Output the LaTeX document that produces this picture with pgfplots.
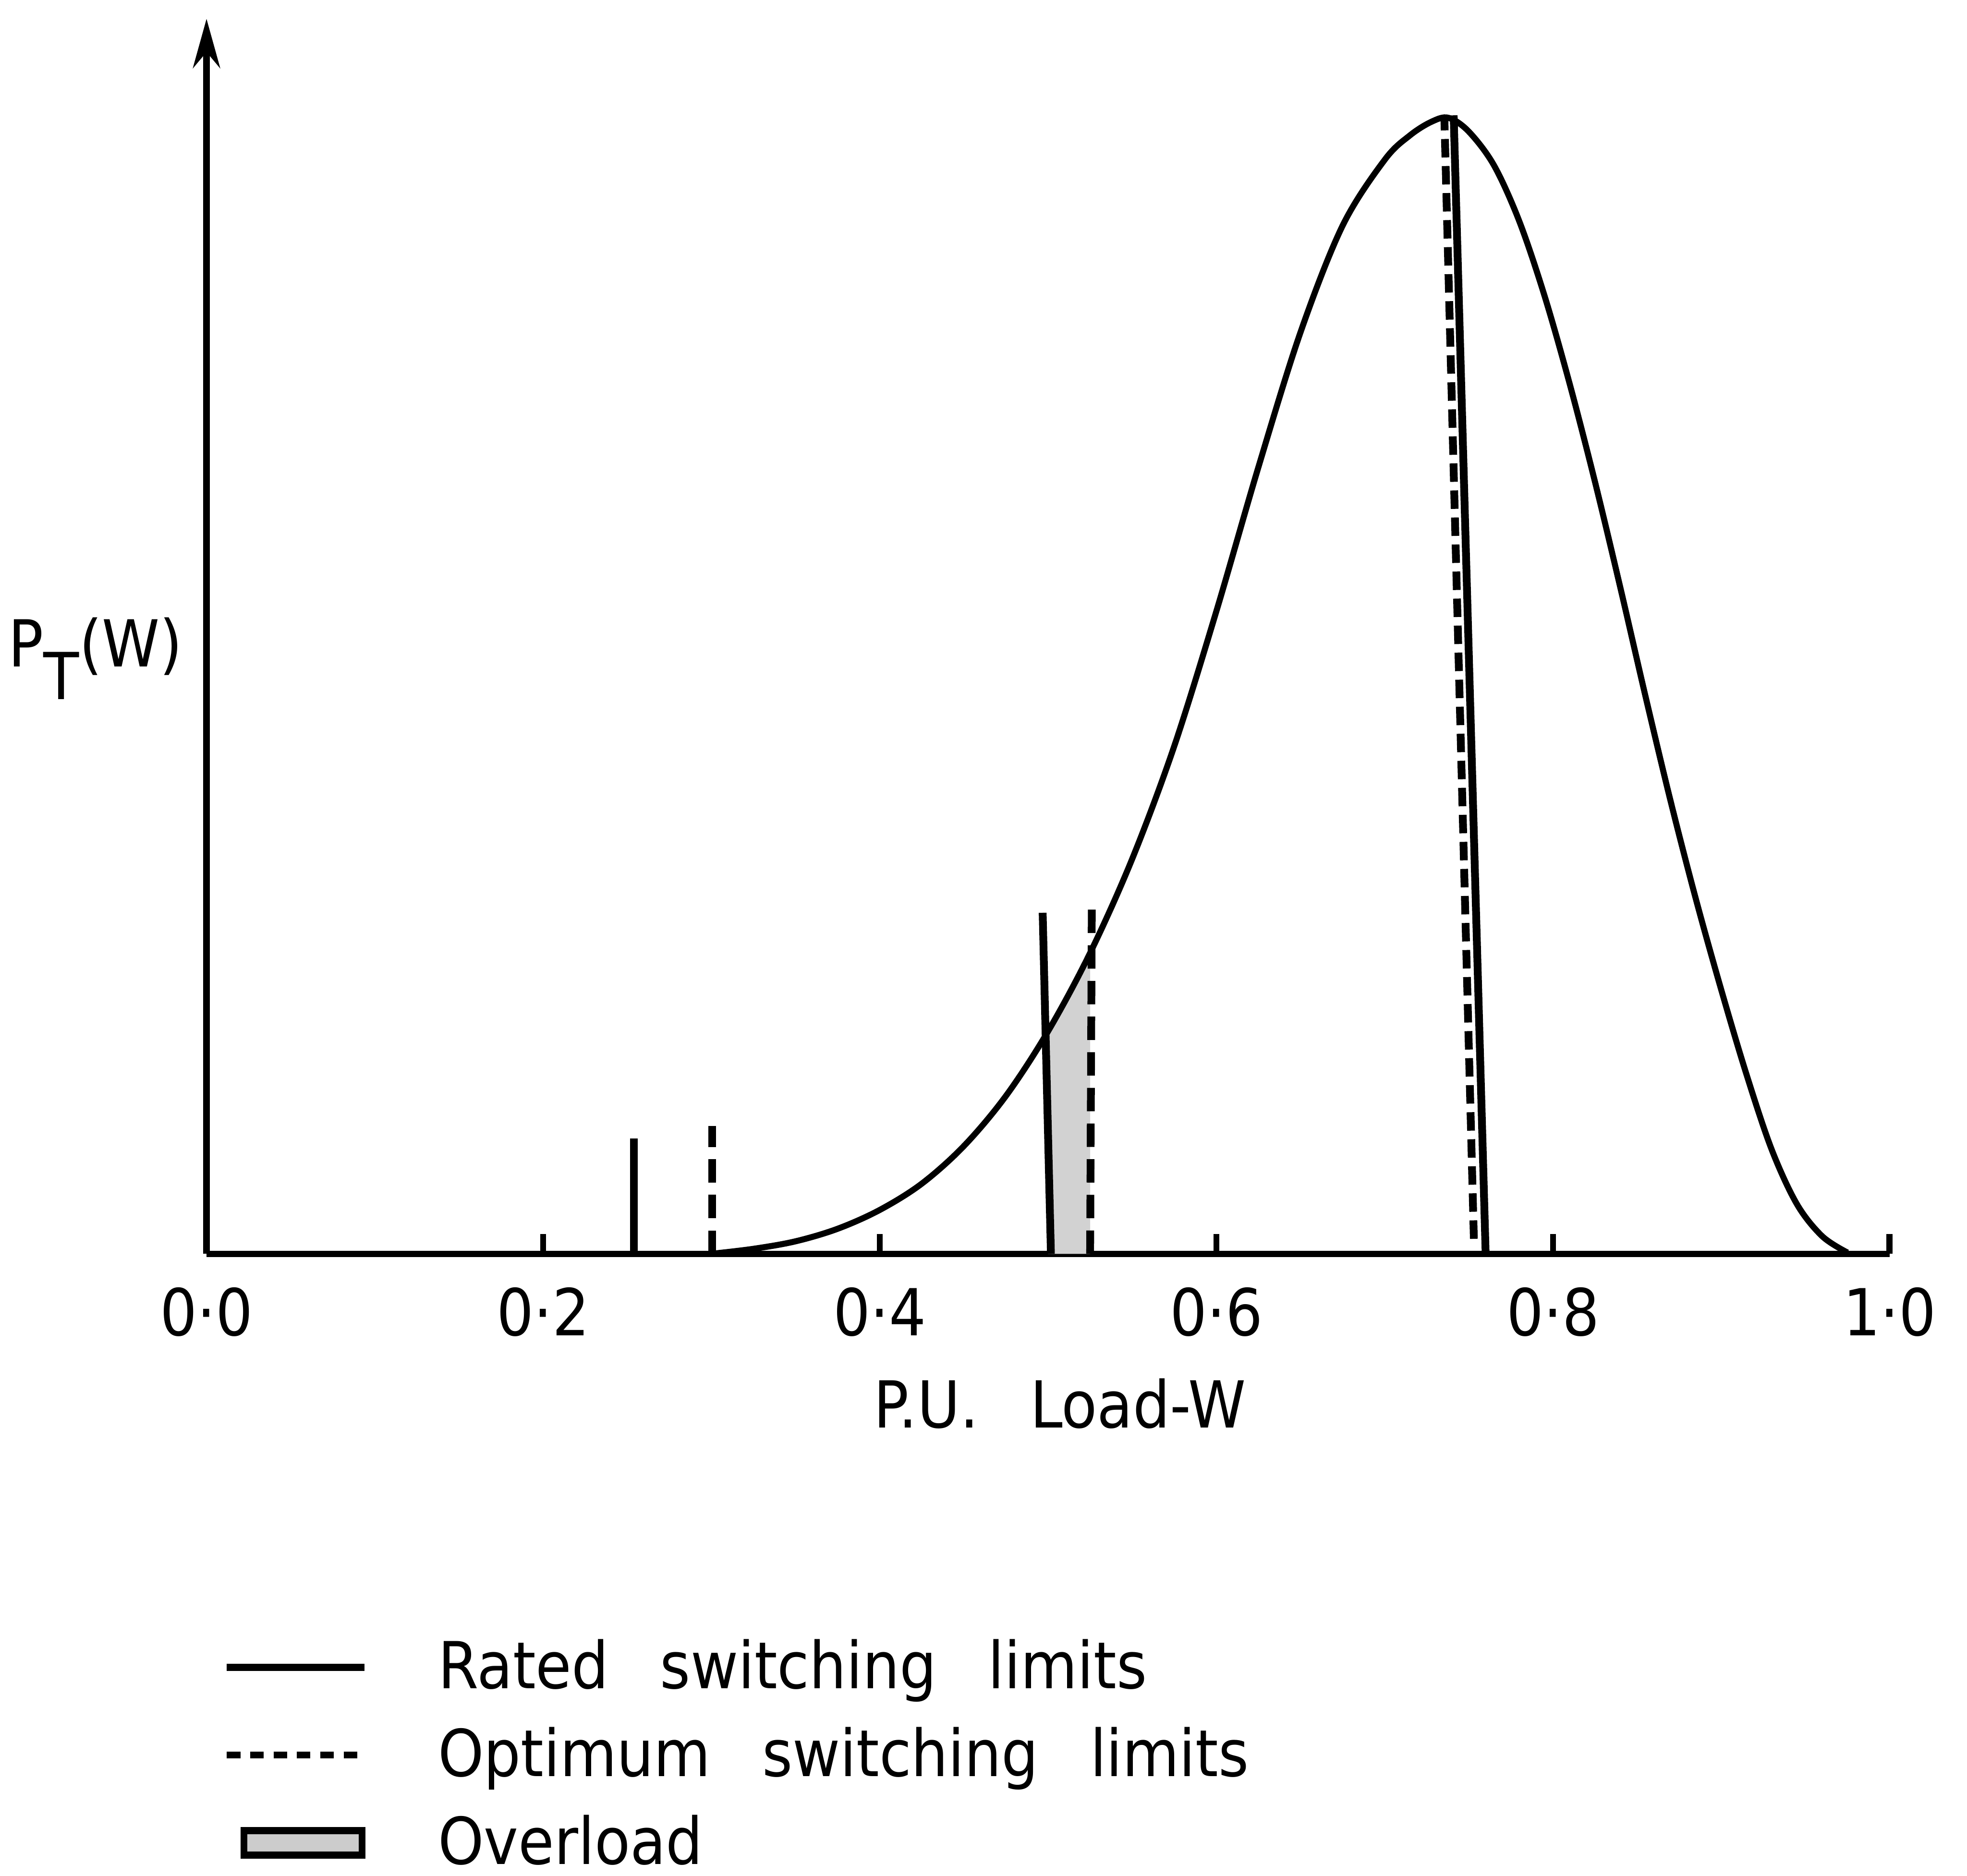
\documentclass[border=0pt]{standalone}
\usepackage{fontspec}
\setmainfont{DejaVu Sans Condensed}
\usepackage{pgfplots}
\pgfplotsset{compat=1.18}
\usetikzlibrary{arrows.meta}
\newcommand{\ws}{\hspace{0.42cm}}
\newcommand{\fs}{\fontsize{15}{18}\selectfont}
\begin{document}
\begin{tikzpicture}
\path[use as bounding box] (-1.68cm,-5.06cm) rectangle (14.32cm,10.2cm);
\begin{axis}[
  at={(0,0)}, anchor=south west,
  x=13.69cm, y=10.2cm,
  xmin=0, xmax=1, ymin=0, ymax=0.985,
  axis x line=bottom, axis y line=left,
  axis line style={line width=1.5pt},
  x axis line style={-},
  y axis line style={-{Stealth[length=0.4cm,width=0.22cm]}},
  xtick={0,0.2,0.4,0.6,0.8,1.0},
  xticklabels={0·0,0·2,0·4,0·6,0·8,1·0},
  ytick=\empty,
  tick align=inside, major tick length=0.16cm,
  tick style={line width=1.4pt, black},
  xticklabel style={font=\fs, yshift=-0.15cm},
  xlabel={P.U.\ws Load-W},
  xlabel style={at={(axis description cs:0.507,0)}, anchor=center, yshift=-1.22cm, font=\fs},
  ylabel={P\raisebox{-0.5em}{T}(W)},
  ylabel style={rotate=-90, at={(axis description cs:-0.066,0.482)}, anchor=center, font=\fs},
  clip=false,
  legend cell align=left,
  legend style={at={(axis description cs:0,0)}, anchor=north west, xshift=0.13cm, yshift=-3.06cm,
    draw=none, fill=none, font=\fs, inner sep=0pt, row sep=0.12cm, column sep=0.5cm},
]
\addlegendimage{legend image code/.code={\draw[line width=1.6pt] (0cm,0cm) -- (1.12cm,0cm);}}
\addlegendentry{Rated\ws switching\ws limits}
\addlegendimage{legend image code/.code={\draw[line width=1.6pt, dash pattern=on 0.11cm off 0.08cm] (0cm,0cm) -- (1.12cm,0cm);}}
\addlegendentry{Optimum\ws switching\ws limits}
\addlegendimage{legend image code/.code={\fill[gray!40, draw=black, line width=1.6pt] (0.14cm,-0.1cm) rectangle (1.1cm,0.1cm);}}
\addlegendentry{Overload}

% overload region
\addplot[forget plot, fill=gray!35, draw=none] coordinates {(0.5,0.1775) (0.5125,0.208) (0.525,0.240)} \closedcycle;

% probability curve
\addplot[forget plot, smooth, tension=0.55, line width=1.4pt] coordinates {
(0.300,0.000) (0.325,0.004) (0.350,0.010) (0.375,0.020) (0.400,0.035) (0.425,0.056)
(0.450,0.086) (0.475,0.126) (0.500,0.1775) (0.525,0.240) (0.550,0.315) (0.575,0.405)
(0.600,0.5125) (0.625,0.6275) (0.650,0.735) (0.675,0.820) (0.700,0.8725) (0.715,0.892)
(0.728,0.903) (0.738,0.906) (0.750,0.895) (0.765,0.868) (0.780,0.8235) (0.795,0.764)
(0.810,0.6935) (0.825,0.6155) (0.840,0.5315) (0.855,0.4445) (0.870,0.3605) (0.885,0.2825)
(0.900,0.2105) (0.915,0.143) (0.930,0.083) (0.945,0.0395) (0.960,0.014) (0.975,0.001)};

% rated switching limits (solid)
\addplot[forget plot, line width=1.8pt] coordinates {(0.254,0) (0.254,0.092)};
\addplot[forget plot, line width=1.8pt] coordinates {(0.4968,0.272) (0.5017,0)};
\addplot[forget plot, line width=1.8pt] coordinates {(0.741,0.908) (0.760,0)};

% optimum switching limits (dashed)
\addplot[forget plot, line width=1.8pt, dash pattern=on 0.19cm off 0.1cm] coordinates {(0.3005,0) (0.3005,0.102)};
\addplot[forget plot, line width=1.8pt, dash pattern=on 0.19cm off 0.1cm] coordinates {(0.525,0) (0.526,0.277)};
\addplot[forget plot, line width=1.8pt, dash pattern=on 0.15cm off 0.07cm] coordinates {(0.753,0.012) (0.7355,0.905)};
\end{axis}
\end{tikzpicture}
\end{document}
